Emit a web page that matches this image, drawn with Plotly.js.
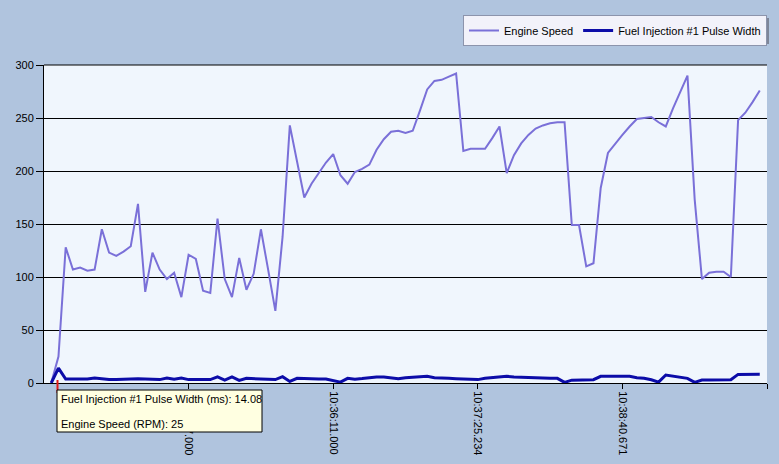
<!DOCTYPE html>
<html>
<head>
<meta charset="utf-8">
<script src="https://cdn.plot.ly/plotly-3.0.1.min.js"></script>
<style>
  html, body { margin: 0; padding: 0; background: #B0C4DE; }
  #chart { width: 779px; height: 464px; }
</style>
</head>
<body>
<div id="chart"></div>
<script>
// ---- data ----
var engineSpeed = [
  0, 25, 128, 107, 109, 106, 107, 145, 123, 120,
  124, 129, 169, 86, 123, 107, 98, 104, 81, 121,
  117, 87, 85, 155, 98, 81, 118, 88, 103, 145,
  107, 68, 138, 243, 209, 175, 188, 198, 208, 216,
  196, 188, 199, 202, 206, 220, 230, 237, 238, 236,
  238, 257, 277, 285, 286, 289, 292, 219, 221, 221,
  221, 231, 242, 198, 215, 226, 234, 240, 243, 245,
  246, 246, 149, 149, 110, 113, 184, 217, 226, 234,
  242, 249, 250, 251, 246, 242, 259, 275, 290, 173,
  98, 104, 105, 105, 100, 248, 255, 265, 276
];
var fuelPulseWidth = [
  0, 14.08, 3.8, 3.8, 3.8, 3.8, 4.7, 3.8, 3.2, 3.2,
  3.8, 3.8, 4.0, 3.8, 3.5, 3.2, 4.7, 3.5, 4.7, 3.2,
  3.2, 3.2, 3.2, 5.7, 2.8, 5.7, 2.5, 4.4, 4.4, 3.8,
  3.5, 3.2, 6.0, 1.5, 4.4, 4.0, 3.8, 3.8, 3.8, 2.5,
  0.8, 4.4, 3.6, 4.2, 5.0, 5.7, 5.7, 5.0, 4.0, 5.0,
  5.5, 6.0, 6.3, 5.0, 4.4, 4.4, 4.0, 3.8, 3.5, 3.2,
  4.4, 5.0, 5.3, 6.3, 5.7, 5.3, 5.0, 4.7, 4.4, 4.4,
  4.4, 0.6, 2.7, 2.8, 3.0, 3.1, 6.3, 6.3, 6.3, 6.3,
  6.3, 5.0, 4.4, 3.0, 0.8, 7.5, 6.6, 5.7, 4.4, 0.6,
  2.8, 2.8, 2.8, 2.8, 3.0, 8.1, 8.2, 8.2, 8.2
];
var tickSampleIndex = [19, 39, 59, 79, 99];
var tickLabels = ["10:34:57.000", "10:36:11.000", "10:37:25.234", "10:38:40.671", ""];
var seriesNames = ["Engine Speed", "Fuel Injection #1 Pulse Width"];
var tooltipIndex = 1;

// ---- build ----
var sampleIndex = engineSpeed.map(function (_, i) { return i; });

var W = 779, H = 464;
var M = { l: 44, r: 12, t: 65, b: 81 };
var PW = W - M.l - M.r, PH = H - M.t - M.b;
function px(x) { return (x - M.l) / PW; }
function py(y) { return (H - M.b - y) / PH; }

var FONT = "Liberation Sans, Arial, sans-serif";

var traces = [
  {
    x: sampleIndex, y: engineSpeed, name: seriesNames[0],
    type: "scatter", mode: "lines",
    line: { color: "#7A70D8", width: 2 }
  },
  {
    x: sampleIndex, y: fuelPulseWidth, name: seriesNames[1],
    type: "scatter", mode: "lines",
    line: { color: "#0C0CA8", width: 3 }
  }
];

var layout = {
  width: W, height: H,
  margin: M,
  paper_bgcolor: "#B0C4DE",
  plot_bgcolor: "#F0F6FD",
  font: { family: FONT, size: 11, color: "#000" },
  showlegend: true,
  hovermode: false,
  legend: {
    orientation: "h",
    x: px(767), xanchor: "right",
    y: py(15), yanchor: "top",
    bgcolor: "#F2F2FA",
    bordercolor: "#8C94AC",
    borderwidth: 1,
    font: { family: FONT, size: 11, color: "#000" }
  },
  xaxis: {
    range: [-1, 99],
    showgrid: false, zeroline: false,
    showline: true, linecolor: "#000", linewidth: 1,
    ticks: "outside", ticklen: 5, tickcolor: "#000",
    tickmode: "array", tickvals: tickSampleIndex, ticktext: tickLabels,
    tickangle: 90,
    tickfont: { family: FONT, size: 11, color: "#000" }
  },
  yaxis: {
    range: [0, 300], dtick: 50, tick0: 0,
    showgrid: true, gridcolor: "#000", gridwidth: 1,
    zeroline: false,
    showline: true, linecolor: "#000", linewidth: 1,
    ticks: "outside", ticklen: 7, tickcolor: "#000",
    tickfont: { family: FONT, size: 11, color: "#000" }
  },
  shapes: [
    // top border line of plot area (300 gridline)
    { type: "line", xref: "paper", yref: "paper", x0: 0, x1: 1, y0: 1, y1: 1,
      line: { color: "#000", width: 1 }, layer: "above" },
    // legend drop shadow
    { type: "rect", xref: "paper", yref: "paper",
      x0: px(465), x1: px(769), y0: py(44), y1: py(18),
      fillcolor: "#7E8699", line: { width: 0 }, layer: "below" },
    // red cursor marker
    { type: "line", xref: "paper", yref: "paper",
      x0: px(57.5), x1: px(57.5), y0: py(380), y1: py(393),
      line: { color: "#E01818", width: 2 }, layer: "above" },
    // tooltip box
    { type: "rect", xref: "paper", yref: "paper",
      x0: px(57), x1: px(262), y0: py(432), y1: py(390),
      fillcolor: "#FFFFE1", line: { color: "#000", width: 1 }, layer: "above" }
  ],
  annotations: [
    { xref: "paper", yref: "paper", x: px(59), y: py(399),
      xanchor: "left", yanchor: "middle", showarrow: false,
      text: "Fuel Injection #1 Pulse Width (ms): " + fuelPulseWidth[tooltipIndex],
      font: { family: FONT, size: 11, color: "#000" } },
    { xref: "paper", yref: "paper", x: px(59), y: py(424),
      xanchor: "left", yanchor: "middle", showarrow: false,
      text: "Engine Speed (RPM): " + engineSpeed[tooltipIndex],
      font: { family: FONT, size: 11, color: "#000" } }
  ]
};

Plotly.newPlot("chart", traces, layout, { displayModeBar: false, staticPlot: true });
</script>
</body>
</html>
